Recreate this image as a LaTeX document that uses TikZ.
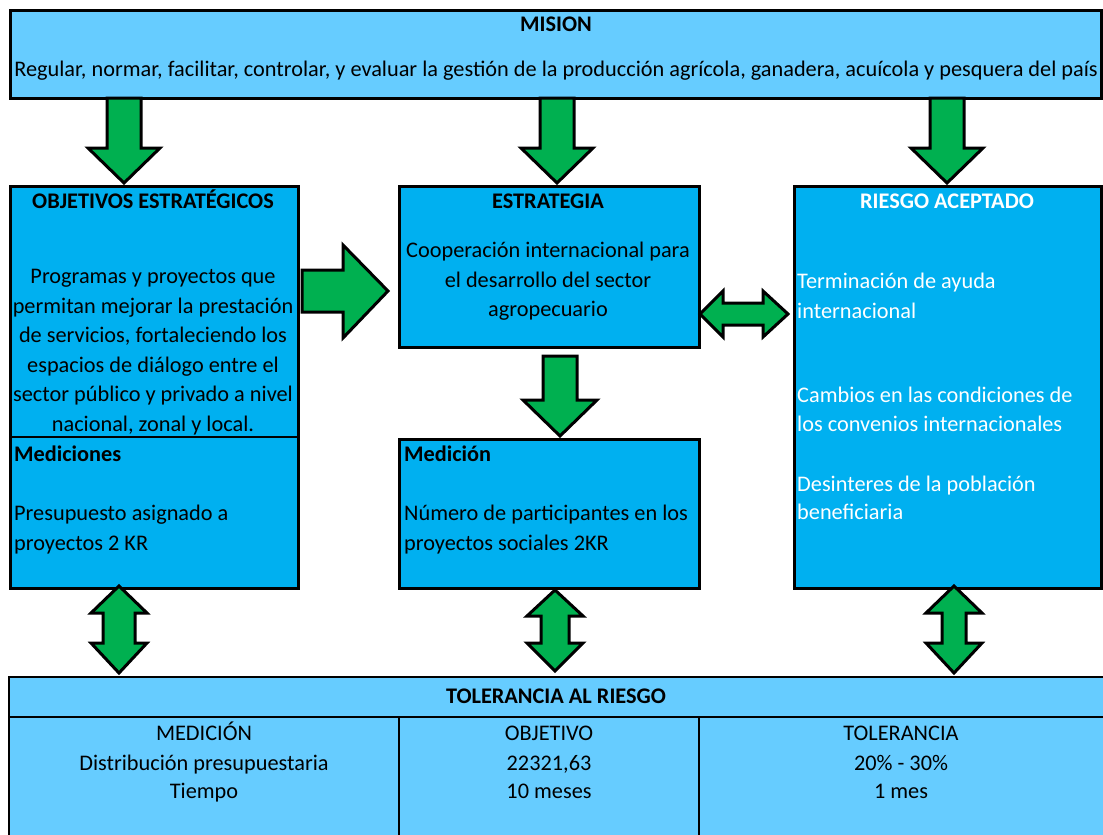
\documentclass[tikz,border=0pt]{standalone}
\usepackage{fontspec}
\setmainfont{Carlito}
\definecolor{lightblue}{HTML}{66CCFF}
\definecolor{boxblue}{HTML}{00B0F0}
\definecolor{arrowgreen}{HTML}{00B050}
\tikzset{
  txt/.style={anchor=base, inner sep=0pt, font=\fontsize{22.3}{27}\selectfont},
  btxt/.style={txt, font=\fontsize{22.3}{27}\selectfont\bfseries},
  ltxt/.style={txt, anchor=base west},
  lbtxt/.style={btxt, anchor=base west},
  boxframe/.style={draw=black, line width=3, fill=boxblue},
  blockarrow/.style={draw=black, line width=3, fill=arrowgreen, line join=miter},
}
% down arrow: cx, ytop, headbase, tip, shaft half, head half
\newcommand{\DownBlock}[6]{%
  \draw[blockarrow] (#1-#5,#2) -- (#1+#5,#2) -- (#1+#5,#3) -- (#1+#6,#3) -- (#1,#4) -- (#1-#6,#3) -- (#1-#5,#3) -- cycle;}
% vertical double arrow: cx, toptip, topbase, botbase, bottip, shaft half, head half
\newcommand{\VDouble}[7]{%
  \draw[blockarrow] (#1,#2) -- (#1+#7,#3) -- (#1+#6,#3) -- (#1+#6,#4) -- (#1+#7,#4) -- (#1,#5) -- (#1-#7,#4) -- (#1-#6,#4) -- (#1-#6,#3) -- (#1-#7,#3) -- cycle;}
\begin{document}
\begin{tikzpicture}[x=1pt,y=-1pt]
\useasboundingbox (0,0) rectangle (1103,835);
\fill[white] (0,0) rectangle (1103,835);

% ---- mission
\node[draw=black, line width=3, fill=lightblue, minimum width=1091, minimum height=88, inner sep=0pt, anchor=north west] (mision) at (9,9) {};
\node[btxt] (misiont) at (556,31) {MISION};
\node[txt] (misionx) at (556,76) {Regular, normar, facilitar, controlar, y evaluar la gestión de la producción agrícola, ganadera, acuícola y pesquera del país};

% ---- boxes
\node[boxframe, minimum width=288, minimum height=402, inner sep=0pt, anchor=north west] (obj) at (9,185) {};
\draw[line width=1.5] (9,437) -- (297,437);
\node[boxframe, minimum width=300, minimum height=161, inner sep=0pt, anchor=north west] (estr) at (398,185) {};
\node[boxframe, minimum width=300, minimum height=149, inner sep=0pt, anchor=north west] (med) at (398,438) {};
\node[boxframe, minimum width=307, minimum height=402, inner sep=0pt, anchor=north west] (ries) at (793,185) {};

% objetivos text
\node[btxt] (objt) at (153,208) {OBJETIVOS ESTRATÉGICOS};
\node[txt] (o1) at (153,283) {Programas y proyectos que};
\node[txt] (o2) at (153,313) {permitan mejorar la prestación};
\node[txt] (o3) at (153,342) {de servicios, fortaleciendo los};
\node[txt] (o4) at (153,372) {espacios de diálogo entre el};
\node[txt] (o5) at (153,401) {sector público y privado a nivel};
\node[txt] (o6) at (153,431) {nacional, zonal y local.};
\node[lbtxt] (medst) at (14,461) {Mediciones};
\node[ltxt] (m1) at (14,520) {Presupuesto asignado a};
\node[ltxt] (m2) at (14,550) {proyectos 2 KR};

% estrategia text
\node[btxt] (estrt) at (548,208) {ESTRATEGIA};
\node[txt] (e1) at (548,257) {Cooperación internacional para};
\node[txt] (e2) at (548,287) {el desarrollo del sector};
\node[txt] (e3) at (548,316) {agropecuario};

% medicion text
\node[lbtxt] (medt) at (404,461) {Medición};
\node[ltxt] (n1) at (404,520) {Número de participantes en los};
\node[ltxt] (n2) at (404,550) {proyectos sociales 2KR};

% riesgo text
\node[btxt, text=white] (riest) at (947,208) {RIESGO ACEPTADO};
\node[ltxt, text=white] (r1) at (797,288) {Terminación de ayuda};
\node[ltxt, text=white] (r2) at (797,318) {internacional};
\node[ltxt, text=white] (r3) at (797,402) {Cambios en las condiciones de};
\node[ltxt, text=white] (r4) at (797,431) {los convenios internacionales};
\node[ltxt, text=white] (r5) at (797,491) {Desinteres de la población};
\node[ltxt, text=white] (r6) at (797,519) {beneficiaria};

% ---- tolerance table
\fill[lightblue] (9,677) rectangle (1103,835);
\draw[line width=2.5] (1103,677) -- (9,677) -- (9,835);
\draw[line width=1.5] (9,717) -- (1103,717);
\draw[line width=1.5] (399,717) -- (399,835);
\draw[line width=1.5] (699,717) -- (699,835);
\node[btxt] (tolt) at (556,703) {TOLERANCIA AL RIESGO};
\node[txt] (c1a) at (204,740) {MEDICIÓN};
\node[txt] (c1b) at (204,770) {Distribución presupuestaria};
\node[txt] (c1c) at (204,798) {Tiempo};
\node[txt] (c2a) at (549,740) {OBJETIVO};
\node[txt] (c2b) at (549,770) {22321,63};
\node[txt] (c2c) at (549,798) {10 meses};
\node[txt] (c3a) at (901,740) {TOLERANCIA};
\node[txt] (c3b) at (901,770) {20\% - 30\%};
\node[txt] (c3c) at (901,798) {1 mes};

% ---- arrows
\DownBlock{124}{98}{148}{183}{17}{36}
\DownBlock{557}{98}{148}{183}{17}{36}
\DownBlock{947}{98}{148}{183}{17}{36}
\DownBlock{560}{356}{400}{436}{17}{37}
% right arrow
\draw[blockarrow] (302,270) -- (343,270) -- (343,245) -- (388,291) -- (343,338) -- (343,312) -- (302,312) -- cycle;
% horizontal double arrow
\draw[blockarrow] (700,314) -- (723,291) -- (723,303) -- (763,303) -- (763,291) -- (788,314) -- (763,337) -- (763,325) -- (723,325) -- (723,337) -- cycle;
% vertical double arrows
\VDouble{119}{586}{613}{643}{673}{16}{28}
\VDouble{555}{590}{616}{643}{671}{14}{28}
\VDouble{954}{586}{613}{643}{673}{12}{28}
\end{tikzpicture}
\end{document}
